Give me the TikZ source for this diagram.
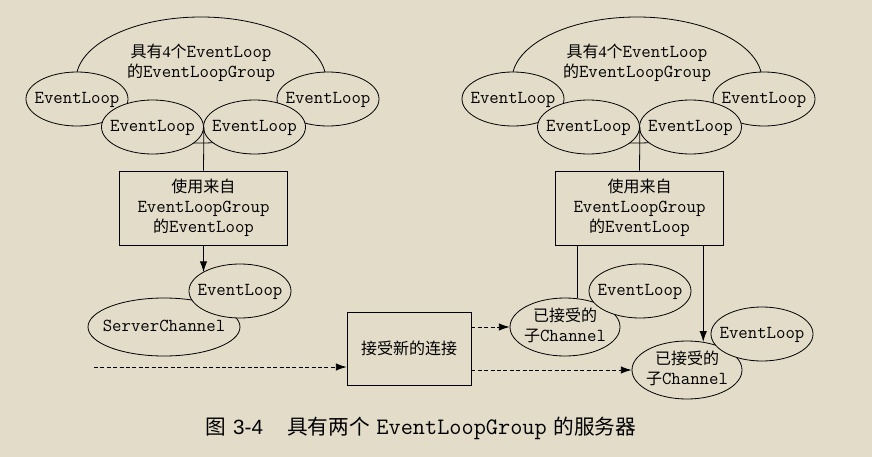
\documentclass[tikz,border=0pt]{standalone}
\usepackage{fontspec}
\setmainfont{Liberation Serif}
\setsansfont{Liberation Sans}
\setmonofont{Latin Modern Mono}[Scale=1.143]
\newfontfamily\cjk{Noto Sans CJK SC}
\usetikzlibrary{arrows.meta, shapes.geometric, calc}
\definecolor{bgPaper}{HTML}{E2DCC9}
% zero-width text, so that the ellipse keeps its set size
\newcommand\zw[1]{\makebox[0pt]{\begin{tabular}{@{}c@{}}#1\end{tabular}}}

\begin{document}
\begin{tikzpicture}[
    x=0.75pt, y=-0.75pt,
    every node/.style={font=\fontsize{12}{15}\selectfont\ttfamily, inner sep=0pt},
    grp/.style={draw, ellipse, fill=bgPaper, minimum width=187.5pt, minimum height=94.5pt},
    loop/.style={draw, ellipse, fill=bgPaper, minimum width=76.5pt, minimum height=40.5pt},
    chan/.style={draw, ellipse, fill=bgPaper, minimum width=82.5pt, minimum height=43.5pt},
    srv/.style={draw, ellipse, fill=bgPaper, minimum width=114pt, minimum height=43.5pt},
    pick/.style={draw, align=center, minimum width=126pt, minimum height=55.5pt},
    accept/.style={draw, align=center, minimum width=93pt, minimum height=54.75pt},
    wire/.style={line width=0.6pt},
    arr/.style={wire, -{Latex[length=8pt,width=5.5pt]}},
    dasharr/.style={arr, dash pattern=on 3pt off 1.8pt}
]
    % background and bounding box
    \fill[bgPaper] (0,0) rectangle (872,457);
    \useasboundingbox (0,0) rectangle (872,457);

    % left group (boss)
    \node[grp, wire] (grpL) at (201,80) {};
    \node[align=center] (grpLtxt) at (201,63) {{\cjk 具有}{\rmfamily 4}{\cjk 个}EventLoop\\{\cjk 的}EventLoopGroup};
    \node[loop, wire] (elL1) at (77,99) {\zw{EventLoop}};
    \node[loop, wire] (elL4) at (328,99) {\zw{EventLoop}};
    \node[loop, wire] (elL2) at (152.5,127) {\zw{EventLoop}};
    \node[loop, wire] (elL3) at (254.5,127) {\zw{EventLoop}};
    \node[pick, wire] (pickL) at (203.5,208) {{\cjk 使用来自}\\EventLoopGroup\\{\cjk 的}EventLoop};

    % right group (worker)
    \node[grp, wire] (grpR) at (637,80) {};
    \node[align=center] (grpRtxt) at (637,63) {{\cjk 具有}{\rmfamily 4}{\cjk 个}EventLoop\\{\cjk 的}EventLoopGroup};
    \node[loop, wire] (elR1) at (513,99) {\zw{EventLoop}};
    \node[loop, wire] (elR4) at (764,99) {\zw{EventLoop}};
    \node[loop, wire] (elR2) at (588.5,127) {\zw{EventLoop}};
    \node[loop, wire] (elR3) at (690.5,127) {\zw{EventLoop}};
    \node[pick, wire] (pickR) at (639.5,208) {{\cjk 使用来自}\\EventLoopGroup\\{\cjk 的}EventLoop};

    % server channel
    \node[srv, wire] (srv) at (164,327) {\zw{ServerChannel}};
    \node[loop, wire] (elS) at (240,291) {\zw{EventLoop}};

    % accept box
    \node[accept, wire] (acc) at (409,348.5) {\cjk 接受新的连接};
    \coordinate (inc) at (94,367);

    % accepted child channels
    \node[chan, wire] (ch1) at (565,327) {\zw{{\cjk 已接受的}\\{\cjk 子}Channel}};
    \node[loop, wire] (elC1) at (640,291) {\zw{EventLoop}};
    \node[chan, wire] (ch2) at (687,370) {\zw{{\cjk 已接受的}\\{\cjk 子}Channel}};
    \node[loop, wire] (elC2) at (762,334) {\zw{EventLoop}};

    % connectors
    \draw[wire] (elL2.east) -- (pickL.north);
    \draw[wire] (elR2.east) -- (pickR.north);
    \draw[arr] (pickL.south) -- (pickL.south |- elS.153);
    \draw[dasharr] (inc) -- (inc -| acc.west);
    \draw[dasharr] (acc.east |- ch1.west) -- (ch1.west);
    \draw[dasharr] (acc.east |- ch2.west) -- (ch2.west);
    \draw[wire] (pickR.south -| ch1.67) -- (ch1.67);
    \draw[arr] (pickR.south -| ch2.60) -- (ch2.60);

    % caption
    \node[font=\fontsize{15.5}{18}\selectfont] (cap) at (421,428)
        {{\cjk 图}\hspace{5pt}{\sffamily 3-4}\hspace{18pt}{\cjk 具有两个}\hspace{5pt}\texttt{EventLoopGroup}\hspace{5pt}{\cjk 的服务器}};
\end{tikzpicture}
\end{document}
